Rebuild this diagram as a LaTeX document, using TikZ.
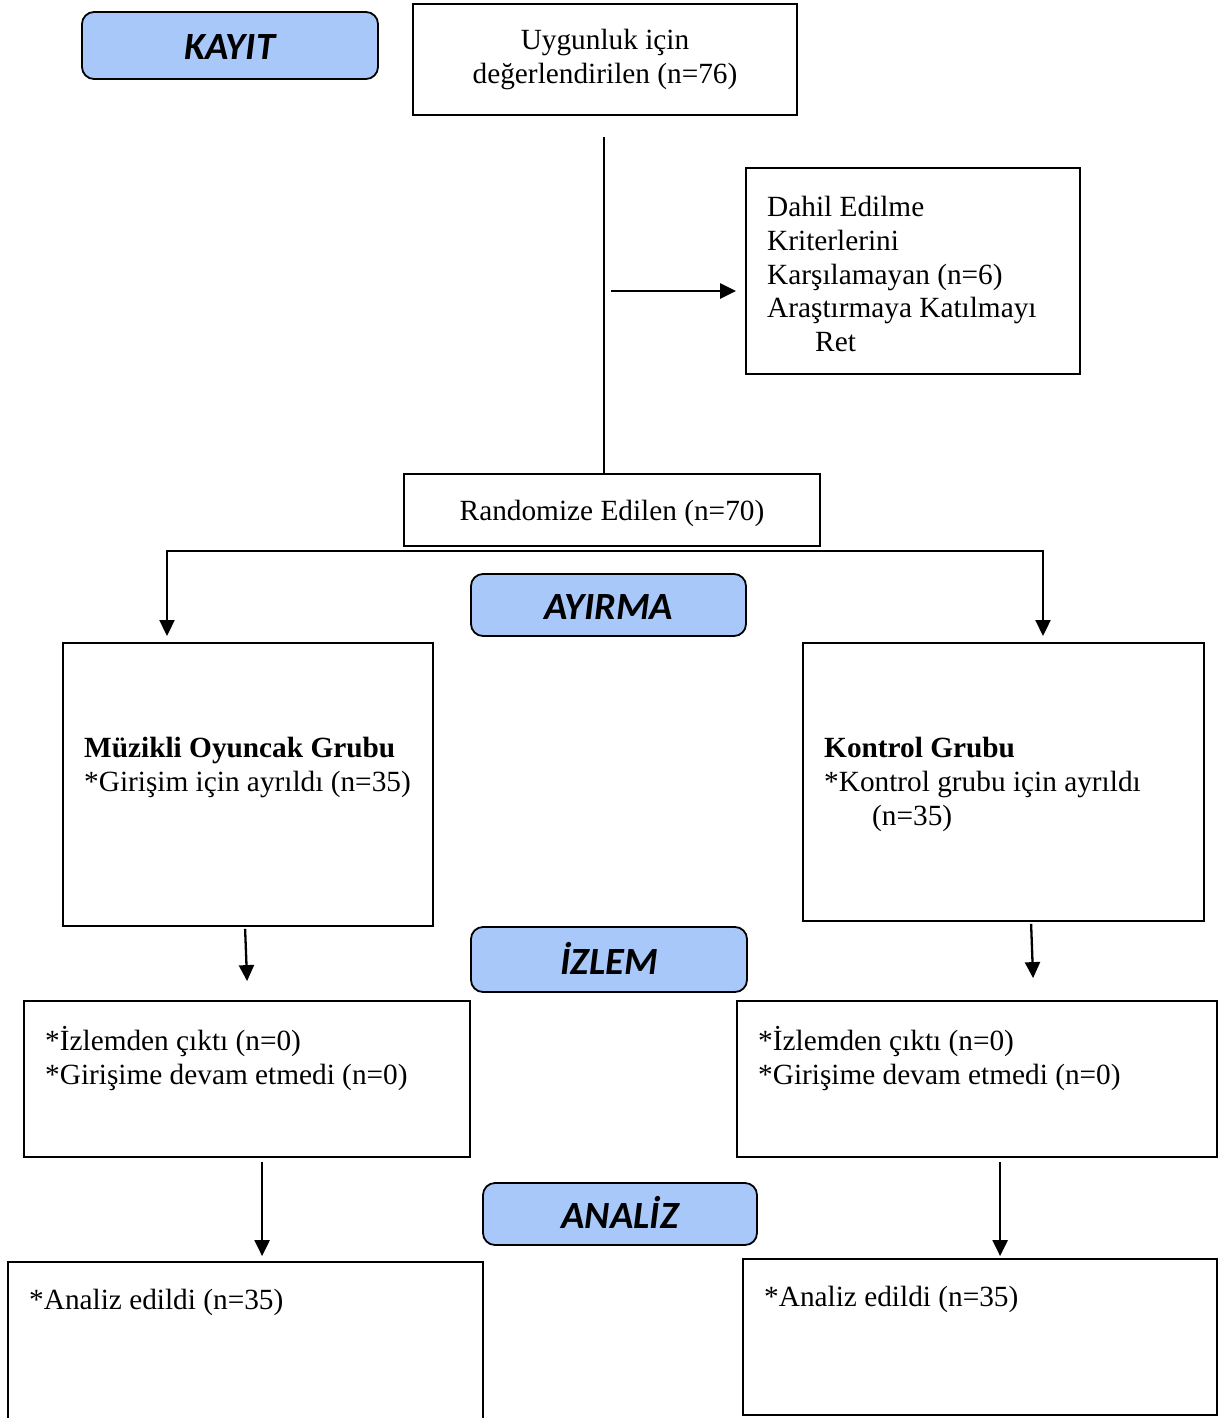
\documentclass[tikz,border=0pt]{standalone}
\usepackage{fontspec}
\setmainfont{Liberation Serif}
\newfontfamily\headfont{Carlito}
\usetikzlibrary{arrows.meta,calc}
\definecolor{hdrblue}{RGB}{168,200,250}
\tikzset{
  box/.style={draw=black, line width=1.8pt, rectangle, inner sep=0pt},
  hdr/.style={draw=black, line width=1.8pt, rounded corners=12pt, fill=hdrblue, inner sep=0pt,
    text height=29pt, text depth=0pt,
    font=\headfont\bfseries\itshape\fontsize{38.5}{42}\selectfont},
  txt/.style={inner sep=0pt, anchor=north west, align=left, font=\fontsize{29.3}{33.7}\selectfont},
  ctxt/.style={font=\fontsize{29.3}{33.7}\selectfont, align=center},
  conn/.style={line width=2.3pt, draw=black},
  arr/.style={conn, -{Triangle[length=16pt,width=15pt]}},
}
\begin{document}
\begin{tikzpicture}[x=1pt,y=-1pt]
\useasboundingbox (0,0) rectangle (1221,1418);
% headers
\node[hdr, minimum width=296pt, minimum height=67pt] (kayit) at (230,45.5) {KAYIT};
\node[hdr, minimum width=275pt, minimum height=62pt] (ayirma) at (608.5,605) {AYIRMA};
\node[hdr, minimum width=276pt, minimum height=65pt] (izlem) at (609,959.5) {İZLEM};
\node[hdr, minimum width=274pt, minimum height=62pt] (analiz) at (620,1214) {ANALİZ};
% boxes
\node[box, ctxt, minimum width=384pt, minimum height=111pt] (uyg) at (605,59.5) {Uygunluk için\\değerlendirilen (n=76)};
\node[box, minimum width=334pt, minimum height=206pt] (dahil) at (913,271) {};
\node[box, ctxt, text depth=0pt, minimum width=416pt, minimum height=72pt] (rand) at (612,510) {Randomize Edilen (n=70)};
\node[box, minimum width=370pt, minimum height=283pt] (g1) at (248,784.5) {};
\node[box, minimum width=401pt, minimum height=278pt] (g2) at (1003.5,782) {};
\node[box, minimum width=446pt, minimum height=156pt] (iz1) at (247,1079) {};
\node[box, minimum width=480pt, minimum height=156pt] (iz2) at (977,1079) {};
\node[box, minimum width=475pt, minimum height=158pt] (an1) at (245.5,1341) {};
\node[box, minimum width=474pt, minimum height=156pt] (an2) at (980,1337) {};
% texts
\node[txt] (tdahil) at (767,193) {\strut Dahil Edilme\\\strut Kriterlerini\\\strut Karşılamayan (n=6)\\\strut Araştırmaya Katılmayı\\\strut\hspace*{48pt}Ret};
\node[txt] (tg1) at (84,734) {\strut\textbf{Müzikli Oyuncak Grubu}\\\strut *Girişim için ayrıldı (n=35)};
\node[txt] (tg2) at (824,734) {\strut\textbf{Kontrol Grubu}\\\strut *Kontrol grubu için ayrıldı\\\strut\hspace*{48pt}(n=35)};
\node[txt] (tiz1) at (45,1026) {\strut *İzlemden çıktı (n=0)\\\strut *Girişime devam etmedi (n=0)};
\node[txt] (tiz2) at (758,1026) {\strut *İzlemden çıktı (n=0)\\\strut *Girişime devam etmedi (n=0)};
\node[txt] (tan1) at (29,1286) {\strut *Analiz edildi (n=35)};
\node[txt] (tan2) at (764,1283) {\strut *Analiz edildi (n=35)};
% connectors
\coordinate (vtop) at (604,137);
\draw[conn] (vtop) -- (vtop |- rand.north);
\coordinate (ha) at (611,291);
\draw[arr, shorten >=9pt] (ha) -- (dahil.west |- ha);
\coordinate (split) at (605,551);
\coordinate (sl) at (167,636);
\coordinate (sr) at (1043,636);
\draw[arr] (split) -| (sl);
\draw[arr] (split) -| (sr);
\draw[arr] ($(g1.south west)+(183,2)$) -- ($(iz1.north west)+(224,-19)$);
\draw[arr] ($(g2.south west)+(229,2)$) -- ($(iz2.north west)+(297,-22)$);
\draw[arr] ($(iz1.south west)+(239,4)$) -- ($(an1.north west)+(255,-5)$);
\draw[arr] ($(iz2.south west)+(264,4)$) -- ($(an2.north west)+(258,-2)$);
\end{tikzpicture}
\end{document}
